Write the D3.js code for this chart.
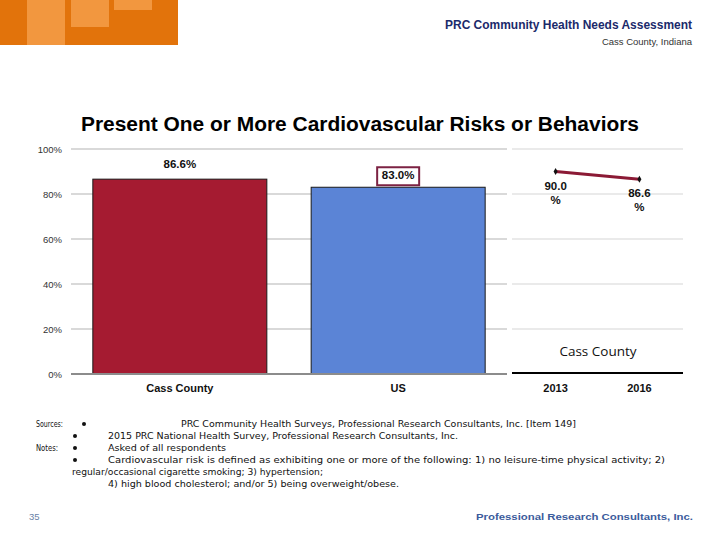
<!DOCTYPE html>
<html>
<head>
<meta charset="utf-8">
<script src="https://cdn.jsdelivr.net/npm/d3@7"></script>
<style>
  html, body { margin: 0; padding: 0; background: #fff; }
  svg { display: block; }
</style>
</head>
<body>
<svg id="chart" width="720" height="540"></svg>
<script>
// data
const categories = ["Cass County", "US"];
const barValues = [86.6, 83.0];
const trendYears = ["2013", "2016"];
const trendValues = [90.0, 86.6];
const yTicks = [0, 20, 40, 60, 80, 100];

const svg = d3.select("#chart");
const font = "'Liberation Sans', Arial, sans-serif";

// header logo blocks
const logo = svg.append("g");
logo.append("rect").attr("x", 0).attr("y", 0).attr("width", 178).attr("height", 45).attr("fill", "#e2730b");
logo.append("rect").attr("x", 27).attr("y", 0).attr("width", 38).attr("height", 45).attr("fill", "#f2973f");
logo.append("rect").attr("x", 71).attr("y", 0).attr("width", 38).attr("height", 27).attr("fill", "#f2973f");
logo.append("rect").attr("x", 114).attr("y", 0).attr("width", 38).attr("height", 10).attr("fill", "#f2973f");

svg.append("text")
  .attr("x", 692).attr("y", 29)
  .attr("text-anchor", "end")
  .attr("font-family", font).attr("font-size", 12).attr("font-weight", "bold")
  .attr("fill", "#1b2a6b")
  .attr("textLength", 247).attr("lengthAdjust", "spacingAndGlyphs")
  .text("PRC Community Health Needs Assessment");

svg.append("text")
  .attr("x", 692).attr("y", 45)
  .attr("text-anchor", "end")
  .attr("font-family", font).attr("font-size", 9.5)
  .attr("fill", "#333")
  .text("Cass County, Indiana");

// title
svg.append("text")
  .attr("x", 360).attr("y", 131)
  .attr("text-anchor", "middle")
  .attr("font-family", font).attr("font-size", 20).attr("font-weight", "bold")
  .attr("fill", "#000")
  .attr("textLength", 558).attr("lengthAdjust", "spacingAndGlyphs")
  .text("Present One or More Cardiovascular Risks or Behaviors");

// scales
const y = d3.scaleLinear().domain([0, 100]).range([374, 149]);
const x = d3.scaleBand().domain(categories).range([71, 507]).paddingInner(0.203).paddingOuter(0.1);
const xt = d3.scalePoint().domain(trendYears).range([512, 683]).padding(0.52);

// gridlines, left panel and trend panel
const grid = svg.append("g");
yTicks.filter(d => d > 0).forEach(d => {
  grid.append("line")
    .attr("x1", 71).attr("x2", 507)
    .attr("y1", y(d)).attr("y2", y(d))
    .attr("stroke", "#d9d9d9").attr("stroke-width", 2);
  grid.append("line")
    .attr("x1", 512).attr("x2", 683)
    .attr("y1", y(d)).attr("y2", y(d))
    .attr("stroke", "#e3e3e3").attr("stroke-width", 1.5);
});

// y axis labels
const yAxis = d3.axisLeft(y).tickValues(yTicks).tickSize(0).tickPadding(9).tickFormat(d => d + "%");
svg.append("g")
  .attr("transform", "translate(71,0)")
  .call(yAxis)
  .call(g => g.select(".domain").remove())
  .call(g => g.selectAll("text")
    .attr("font-family", font).attr("font-size", 9.5).attr("fill", "#333"));

// bars
const barColors = ["#a51b31", "#5b84d6"];
svg.append("g").selectAll("rect")
  .data(categories)
  .join("rect")
  .attr("x", d => x(d))
  .attr("y", (d, i) => y(barValues[i]))
  .attr("width", x.bandwidth())
  .attr("height", (d, i) => y(0) - y(barValues[i]))
  .attr("fill", (d, i) => barColors[i])
  .attr("stroke", "#1a1a1a").attr("stroke-width", 1);

// bar baseline
svg.append("line")
  .attr("x1", 71).attr("x2", 507)
  .attr("y1", y(0)).attr("y2", y(0))
  .attr("stroke", "#8c8c8c").attr("stroke-width", 2);

// bar value labels
categories.forEach((c, i) => {
  const cx = x(c) + x.bandwidth() / 2;
  const ly = y(barValues[i]) - (i === 1 ? 8 : 11);
  if (i === 1) {
    svg.append("rect")
      .attr("x", cx - 21).attr("y", ly - 12)
      .attr("width", 42).attr("height", 18)
      .attr("fill", "#fff")
      .attr("stroke", "#7c2243").attr("stroke-width", 2);
  }
  svg.append("text")
    .attr("x", cx).attr("y", ly)
    .attr("text-anchor", "middle")
    .attr("font-family", font).attr("font-size", 11.5).attr("font-weight", "bold")
    .attr("fill", "#111")
    .text(barValues[i].toFixed(1) + "%");
  svg.append("text")
    .attr("x", cx).attr("y", 392)
    .attr("text-anchor", "middle")
    .attr("font-family", font).attr("font-size", 11).attr("font-weight", "bold")
    .attr("fill", "#111")
    .text(c);
});

// trend panel
svg.append("text")
  .attr("x", 598).attr("y", 356)
  .attr("text-anchor", "middle")
  .attr("font-family", "'Open Sans', 'Noto Sans', sans-serif").attr("font-size", 13.5)
  .attr("fill", "#111")
  .text("Cass County");

svg.append("line")
  .attr("x1", 512).attr("x2", 683)
  .attr("y1", 373).attr("y2", 373)
  .attr("stroke", "#000").attr("stroke-width", 2);

const line = d3.line()
  .x((d, i) => xt(trendYears[i]))
  .y(d => y(d));

svg.append("path")
  .datum(trendValues)
  .attr("d", line)
  .attr("fill", "none")
  .attr("stroke", "#8b1a35").attr("stroke-width", 3);

svg.append("g").selectAll("path")
  .data(trendValues)
  .join("path")
  .attr("transform", (d, i) => `translate(${xt(trendYears[i])},${y(d)})`)
  .attr("d", d3.symbol(d3.symbolDiamond, 14))
  .attr("fill", "#111");

trendValues.forEach((v, i) => {
  const px = xt(trendYears[i]);
  const t = svg.append("text")
    .attr("text-anchor", "middle")
    .attr("font-family", font).attr("font-size", 11.5).attr("font-weight", "bold")
    .attr("fill", "#111");
  t.append("tspan").attr("x", px).attr("y", y(v) + 18).text(v.toFixed(1));
  t.append("tspan").attr("x", px).attr("y", y(v) + 32).text("%");
  svg.append("text")
    .attr("x", px).attr("y", 392)
    .attr("text-anchor", "middle")
    .attr("font-family", font).attr("font-size", 11).attr("font-weight", "bold")
    .attr("fill", "#111")
    .text(trendYears[i]);
});

// footnotes
const notes = svg.append("g")
  .attr("font-family", "'DejaVu Sans Condensed', 'Liberation Sans Narrow', sans-serif")
  .attr("font-size", 9)
  .attr("fill", "#111");

function note(xp, yp, str, len) {
  const t = notes.append("text").attr("x", xp).attr("y", yp).text(str);
  if (len) t.attr("textLength", len).attr("lengthAdjust", "spacingAndGlyphs");
  return t;
}
function bullet(xp, yp) {
  notes.append("circle").attr("cx", xp).attr("cy", yp - 3).attr("r", 2).attr("fill", "#111");
}

note(36, 427, "Sources:", 27);
bullet(84, 427);
note(181, 427, "PRC Community Health Surveys, Professional Research Consultants, Inc.  [Item 149]", 395);
bullet(75, 439);
note(108, 439, "2015 PRC National Health Survey, Professional Research Consultants, Inc.", 350);
note(36, 451, "Notes:", 22);
bullet(75, 451);
note(108, 451, "Asked of all respondents", 118);
bullet(75, 463);
note(108, 463, "Cardiovascular risk is defined as exhibiting one or more of the following:  1) no leisure-time physical activity; 2)", 557);
note(72, 475, "regular/occasional cigarette smoking; 3) hypertension;", 251);
note(108, 487, "4) high blood cholesterol; and/or 5) being overweight/obese.", 291);

// page footer
svg.append("text")
  .attr("x", 29).attr("y", 520)
  .attr("font-family", font).attr("font-size", 9.5)
  .attr("fill", "#6a7fa6")
  .text("35");

svg.append("text")
  .attr("x", 693).attr("y", 520)
  .attr("text-anchor", "end")
  .attr("font-family", font).attr("font-size", 9).attr("font-weight", "bold")
  .attr("fill", "#3b5b9c")
  .attr("textLength", 217).attr("lengthAdjust", "spacingAndGlyphs")
  .text("Professional Research Consultants, Inc.");
</script>
</body>
</html>
